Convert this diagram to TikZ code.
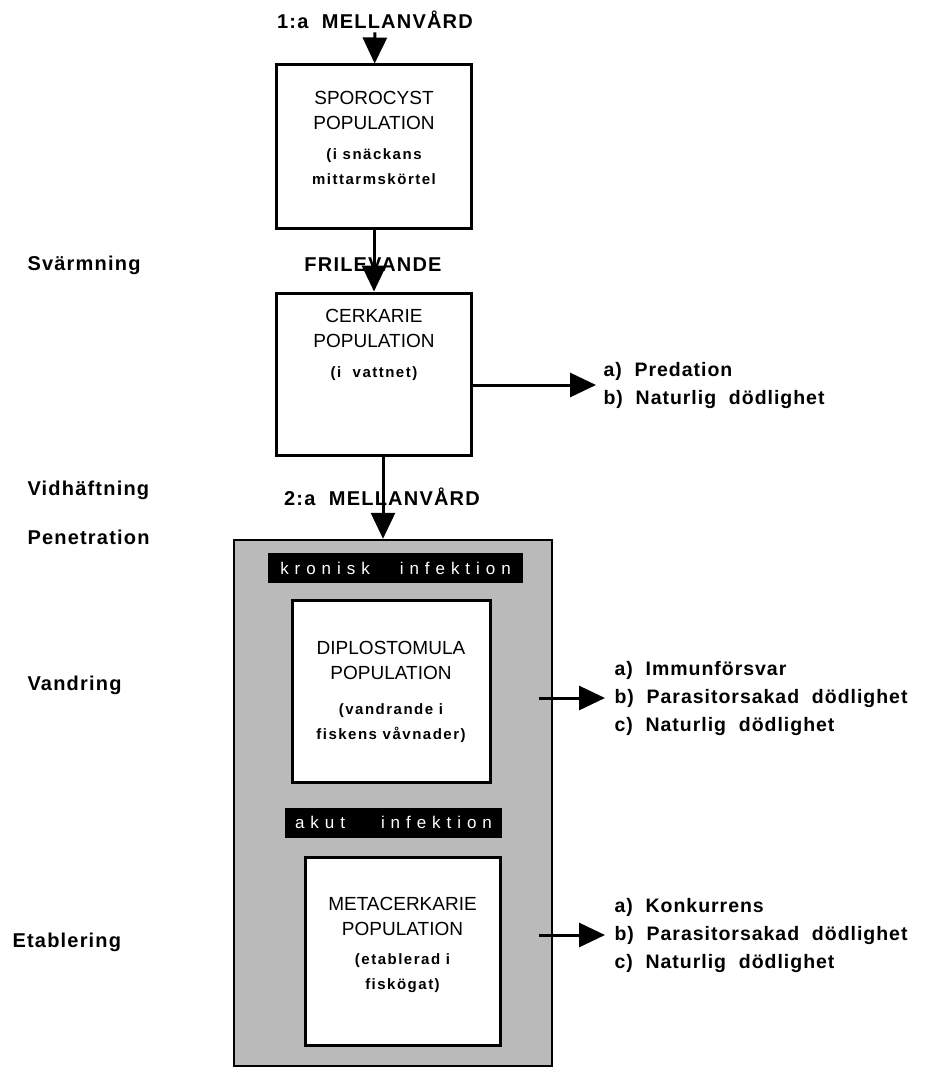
\documentclass[tikz,border=0pt]{standalone}
\usepackage{fontspec}
\setmainfont{Liberation Sans}
\usetikzlibrary{positioning, arrows.meta}
\newcommand{\inpar}[1]{{\fontsize{15}{20}\selectfont\bfseries\addfontfeature{LetterSpace=10}#1}}

\begin{document}
\begin{tikzpicture}[x=1pt, y=-1pt,
    popbox/.style={rectangle, draw, line width=3pt, fill=white, minimum width=195pt, align=center, font=\fontsize{19}{25}\selectfont},
    bar/.style={rectangle, fill=black, text=white, minimum height=30pt, inner sep=0pt, font=\fontsize{17}{20}\selectfont\addfontfeature{LetterSpace=35}},
    note/.style={anchor=west, align=left, font=\fontsize{19.5}{28}\selectfont\bfseries\addfontfeature{LetterSpace=5}},
    stage/.style={anchor=west, font=\fontsize{20}{24}\selectfont\bfseries\addfontfeature{LetterSpace=6}},
    host/.style={font=\fontsize{20}{24}\selectfont\bfseries\addfontfeature{LetterSpace=6}},
    arrow/.style={-{Triangle[length=26pt, width=24pt]}, line width=3pt}
]
    \useasboundingbox (0,0) rectangle (928,1070);

    % fish host, drawn first
    \node[draw, line width=2.5pt, fill=black!27, minimum width=318pt, minimum height=526pt] (fish) at (393,803) {};
    \node[bar, minimum width=255pt] (kron) at (395.5,568) {kronisk\hspace{30pt}infektion};
    \node[bar, minimum width=217pt] (akut) at (393.5,822.5) {akut\hspace{36pt}infektion};

    \node[host] (host1) at (375,20) {1:a\ \ MELLANVÅRD};
    \node[popbox, minimum height=163pt, text depth=17pt] (spor) at (374,146.5)
        {SPOROCYST\\POPULATION\\[5pt]\inpar{(i snäckans}\\\inpar{mittarmskörtel}};
    \node[popbox, minimum height=162pt, text depth=61pt] (cerk) at (374,374)
        {CERKARIE\\POPULATION\\[5pt]\inpar{(i\ \ vattnet)}};
    \node[popbox, minimum width=198pt, minimum height=182pt, text depth=1pt] (dipl) at (391,691)
        {DIPLOSTOMULA\\POPULATION\\[10pt]\inpar{(vandrande i}\\\inpar{fiskens våvnader)}};
    \node[popbox, minimum height=188pt, text depth=16pt] (meta) at (402.5,951)
        {METACERKARIE\\POPULATION\\[4pt]\inpar{(etablerad i}\\\inpar{fiskögat)}};

    \node[host] (frile) at (373,265) {FRILEVANDE};
    \node[host] (host2) at (382,497) {2:a\ \ MELLANVÅRD};

    \draw[arrow] (host1) -- (spor);
    \draw[arrow] (spor) -- (cerk);
    \draw[arrow] ([xshift=9pt]cerk.south) -- ([xshift=9pt]cerk.south |- fish.north);

    % losses
    \node[note] (cerkout) at (600,385) {a)\ \ Predation\\b)\ \ Naturlig\ \ dödlighet};
    \node[note] (diplout) at (611,698) {a)\ \ Immunförsvar\\b)\ \ Parasitorsakad\ \ dödlighet\\c)\ \ Naturlig\ \ dödlighet};
    \node[note] (metaout) at (611,935) {a)\ \ Konkurrens\\b)\ \ Parasitorsakad\ \ dödlighet\\c)\ \ Naturlig\ \ dödlighet};

    \draw[arrow, shorten >=4pt] (cerk.east |- cerkout.west) -- (cerkout.west);
    \draw[arrow, shorten >=6pt] ([xshift=-14pt]fish.east |- diplout.west) -- (diplout.west);
    \draw[arrow, shorten >=6pt] ([xshift=-14pt]fish.east |- metaout.west) -- (metaout.west);

    % stages
    \node[stage] (swarm) at (24,265) {Svärmning};
    \node[stage] (attach) at (24,490) {Vidhäftning};
    \node[stage] (pen) at (24,537) {Penetration};
    \node[stage] (wander) at (24,685) {Vandring};
    \node[stage] (estab) at (9,942) {Etablering};
\end{tikzpicture}
\end{document}
